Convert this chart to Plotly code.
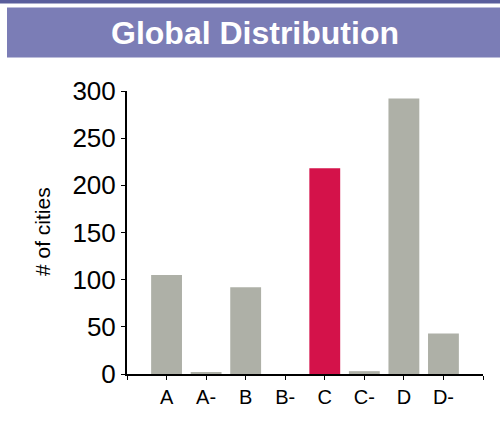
import plotly.graph_objects as go

categories = ["A", "A-", "B", "B-", "C", "C-", "D", "D-"]
counts = [105, 2, 92, 0, 218, 3, 292, 43]
bar_colors = ["#aeb0a7", "#aeb0a7", "#aeb0a7", "#aeb0a7", "#d4124a", "#aeb0a7", "#aeb0a7", "#aeb0a7"]
y_ticks = [0, 50, 100, 150, 200, 250, 300]

W, H = 500, 421
L, R, T, B = 127, 17, 91, 47
pw, ph = W - L - R, H - T - B

def px(x):
    return (x - L) / pw

def py(y):
    return (H - B - y) / ph

xpos = list(range(len(categories)))

fig = go.Figure(go.Bar(
    x=xpos, y=counts, marker=dict(color=bar_colors, line=dict(width=0)),
    width=0.78, hoverinfo="skip"))

fig.update_layout(
    width=W, height=H, margin=dict(l=L, r=R, t=T, b=B),
    paper_bgcolor="white", plot_bgcolor="white", showlegend=False,
    font=dict(family="Liberation Sans, Arial, sans-serif", color="black"),
    xaxis=dict(range=[-1, len(categories)], tickmode="array",
               tickvals=list(range(-1, len(categories) + 1)),
               ticktext=[""] + categories + [""],
               showgrid=False, zeroline=False, showline=True, linecolor="black", linewidth=2,
               ticks="outside", ticklen=4, tickcolor="black", tickwidth=1,
               tickfont=dict(size=20)),
    yaxis=dict(range=[0, 300], tickvals=y_ticks, showgrid=False, zeroline=False,
               showline=True, linecolor="black", linewidth=2,
               ticks="outside", ticklen=4, tickcolor="black", tickwidth=1,
               tickfont=dict(size=26)),
    shapes=[
        dict(type="rect", xref="paper", yref="paper", x0=px(-5), x1=px(505), y0=py(-5), y1=py(3.5),
             fillcolor="#5a5e9c", line=dict(width=0), layer="above"),
        dict(type="rect", xref="paper", yref="paper", x0=px(7), x1=px(505), y0=py(7.5), y1=py(57.5),
             fillcolor="#7b7db6", line=dict(width=0), layer="above"),
    ],
    annotations=[
        dict(text="<b>Global Distribution</b>", xref="paper", yref="paper", x=px(255), y=py(33),
             xanchor="center", yanchor="middle", showarrow=False,
             font=dict(size=32, color="white", family="Liberation Sans, Arial, sans-serif")),
        dict(text="# of cities", xref="paper", yref="paper", x=px(42), y=py(232),
             xanchor="center", yanchor="middle", showarrow=False, textangle=-90,
             font=dict(size=21, color="black")),
    ],
)

fig.write_html("out.html", config={"displayModeBar": False},
               post_script="document.body.style.margin='0';document.body.style.overflow='hidden';")
